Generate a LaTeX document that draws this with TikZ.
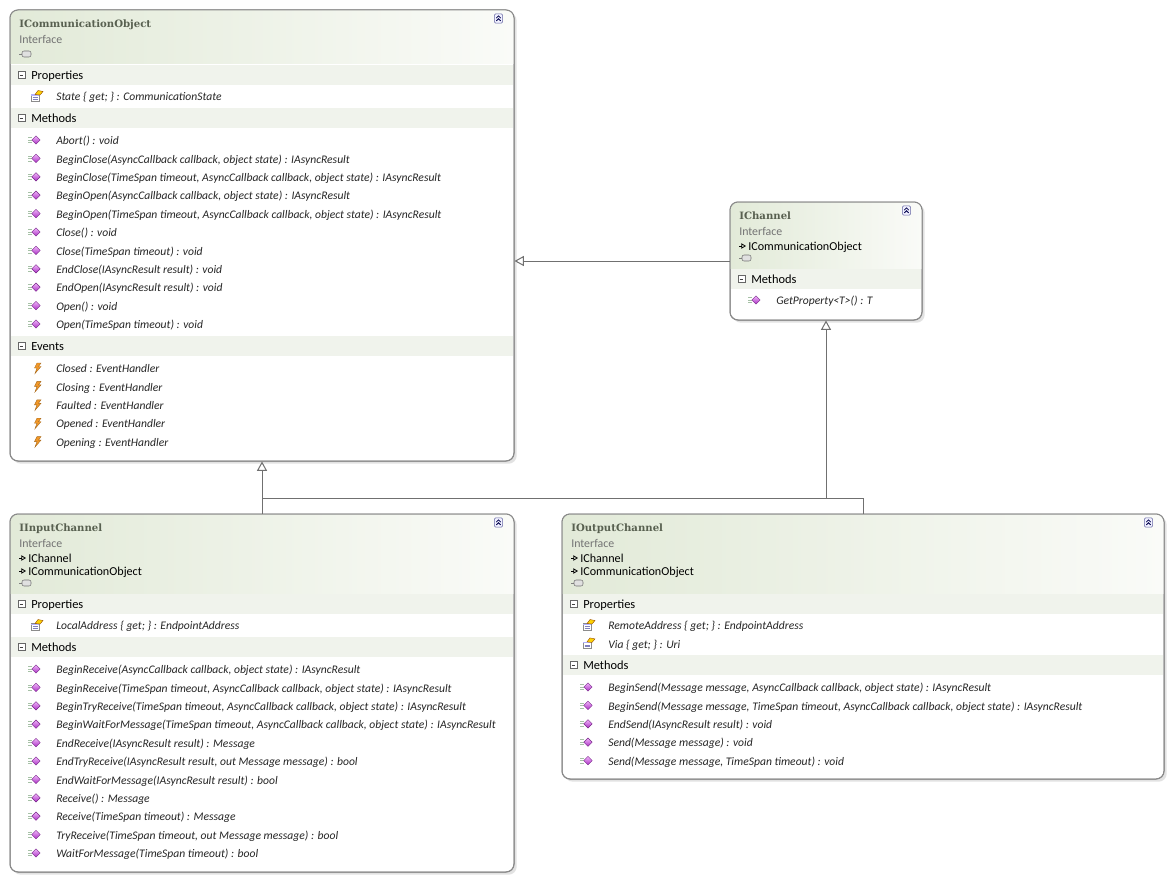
\documentclass[tikz,border=0pt]{standalone}
\usepackage{fontspec}
\setmainfont{Carlito}
\newfontfamily\titlefont{DejaVu Serif}
\usetikzlibrary{arrows.meta,fit,shadows}

\definecolor{umlborder}{RGB}{138,138,138}
\definecolor{hdrleft}{RGB}{226,234,216}
\definecolor{hdrright}{RGB}{250,251,248}
\definecolor{sectfill}{RGB}{240,243,236}
\definecolor{titlecol}{RGB}{88,96,80}
\definecolor{linkcol}{RGB}{112,112,112}
\definecolor{gem}{RGB}{170,50,195}
\definecolor{gemlight}{RGB}{240,180,250}
\definecolor{boltcol}{RGB}{242,152,40}

\tikzset{
  umlframe/.style={inner sep=0pt, rounded corners=6pt, draw=umlborder, fill=white,
    line width=0.75pt, drop shadow={shadow xshift=2pt, shadow yshift=-2pt, fill=black!22}},
  boxtitle/.style={anchor=west, inner sep=0pt, text height=8.6pt, text depth=1.6pt,
    font=\titlefont\bfseries\fontsize{7.6}{9}\selectfont, text=titlecol},
  boxkind/.style={anchor=west, inner sep=0pt, text height=8.6pt, text depth=1.6pt,
    font=\fontsize{8.9}{10}\selectfont, text=black!55},
  inhtext/.style={anchor=west, inner sep=0pt, text height=8.6pt, text depth=1.6pt,
    font=\fontsize{9.1}{10}\selectfont},
  sect/.style={anchor=west, inner sep=0pt, text height=9pt, text depth=1.8pt,
    font=\fontsize{9.3}{11}\selectfont},
  member/.style={anchor=west, inner sep=0pt, text height=8.6pt, text depth=1.6pt,
    font=\itshape\fontsize{8.7}{10}\selectfont, text=black!85},
  inharrow/.style={line width=0.6pt, -{Triangle[open, length=3.5pt, width=4pt]}},
  gen/.style={draw=linkcol, line width=0.75pt, -{Triangle[open, length=7pt, width=7.5pt, fill=white]}},
  link/.style={draw=linkcol, line width=0.75pt},
  methodicon/.pic={
    \draw[green!30!black!35, line width=0.5pt] foreach \k in {-2.5,0,2.5} {(-8,\k) -- (-4.5,\k)};
    \shade[top color=gemlight, bottom color=gem, draw=gem!70!black, line width=0.3pt]
      (0,-4.2) -- (4.2,0) -- (0,4.2) -- (-4.2,0) -- cycle;
  },
  propicon/.pic={
    \draw[fill=white, draw=black!45, line width=0.4pt] (-5,-1.5) rectangle (3,5);
    \fill[blue!30] (-5,-1.5) rectangle (3,0);
    \draw[blue!50!black!50, line width=0.4pt] (-3.5,1.5) -- (1.5,1.5) (-3.5,3.3) -- (1.5,3.3);
    \filldraw[fill=yellow!70!orange, draw=orange!60!black, line width=0.3pt]
      (-1,-1.5) -- (2,-5.5) -- (7,-4.5) -- (4,-1) -- cycle;
  },
  eventicon/.pic={
    \filldraw[fill=boltcol, draw=boltcol!70!black, line width=0.3pt]
      (1,-5) -- (5,-5) -- (2.5,-1.5) -- (5,-1.5) -- (-1,5.5) -- (1,0) -- (-1.5,0) -- cycle;
  },
  sectsign/.pic={
    \draw[black!60, fill=white, line width=0.4pt] (0,-3.5) rectangle (7,3.5);
    \draw[black!75, line width=0.5pt] (1.7,0) -- (5.3,0);
  },
  chevron/.pic={
    \draw[draw=blue!40!black!60, fill=blue!6, rounded corners=1pt, line width=0.4pt]
      (-4.2,-4.6) rectangle (4.2,4.6);
    \draw[blue!30!black, line width=0.6pt] (-2.2,-0.4) -- (0,-2.6) -- (2.2,-0.4)
      (-2.2,2.4) -- (0,0.2) -- (2.2,2.4);
  },
  lollipop/.pic={
    \draw[black!50, line width=0.5pt] (0,0) -- (3,0);
    \draw[fill=black!12, draw=black!55, rounded corners=1.5pt, line width=0.4pt] (3,-3) rectangle (12,3);
  },
}

\newcommand\umlbox[6]{% name, x1, y1, x2, y2, header bottom
  \coordinate (#1-nw) at (#2,#3);
  \coordinate (#1-se) at (#4,#5);
  \node[umlframe, fit=(#1-nw)(#1-se)] (#1) {};
  \begin{scope}
    \clip[rounded corners=6pt] (#1-nw) rectangle (#1-se);
    \shade[left color=hdrleft, right color=hdrright] (#1-nw) rectangle (#4,#6);
  \end{scope}
  \draw[umlborder, line width=0.75pt, rounded corners=6pt] (#1-nw) rectangle (#1-se);
  \pic at (#4-15.5,#3+8.5) {chevron};
}
\newcommand\umlsect[5]{% name, x1, x2, y, label
  \fill[sectfill] (#2+0.6,#4-10) rectangle (#3-0.6,#4+10);
  \pic at (#2+8,#4) {sectsign};
  \node[sect] (#1) at (#2+21,#4) {#5};
}
\newcommand\umlmembers[5]{% name, x1, y0, icon, list
  \foreach \txt [count=\i from 0] in {#5} {
    \pic at (#2+26,#3+18.4*\i) {#4};
    \node[member] (#1-\i) at (#2+46,#3+18.4*\i) {\txt};
  }
}
\newcommand\umlinh[4]{% name, x1, y, text
  \draw[inharrow] (#2+9,#3) -- (#2+16,#3);
  \node[inhtext] (#1) at (#2+18,#3) {#4};
}

\begin{document}
\begin{tikzpicture}[x=0.75pt, y=-0.75pt]
\fill[white] (0,0) rectangle (1171,881);
\useasboundingbox (0,0) rectangle (1171,881);

\umlbox{comobj}{10}{10}{514}{461}{64}
\node[boxtitle] (comobj-t) at (19,23) {ICommunicationObject};
\node[boxkind] (comobj-k) at (19,39) {Interface};
\pic at (19,54) {lollipop};
\umlsect{comobj-s1}{10}{514}{75}{Properties}
\umlmembers{comobj-p}{10}{96}{propicon}{{State \{ get; \} : CommunicationState}}
\umlsect{comobj-s2}{10}{514}{118}{Methods}
\umlmembers{comobj-m}{10}{140}{methodicon}{Abort() : void,
  {BeginClose(AsyncCallback callback, object state) : IAsyncResult},
  {BeginClose(TimeSpan timeout, AsyncCallback callback, object state) : IAsyncResult},
  {BeginOpen(AsyncCallback callback, object state) : IAsyncResult},
  {BeginOpen(TimeSpan timeout, AsyncCallback callback, object state) : IAsyncResult},
  Close() : void, Close(TimeSpan timeout) : void, EndClose(IAsyncResult result) : void,
  EndOpen(IAsyncResult result) : void, Open() : void, Open(TimeSpan timeout) : void}
\umlsect{comobj-s3}{10}{514}{346}{Events}
\umlmembers{comobj-e}{10}{368}{eventicon}{Closed : EventHandler, Closing : EventHandler,
  Faulted : EventHandler, Opened : EventHandler, Opening : EventHandler}

\umlbox{ichan}{730}{202}{922}{320}{268}
\node[boxtitle] (ichan-t) at (739,215) {IChannel};
\node[boxkind] (ichan-k) at (739,231) {Interface};
\umlinh{ichan-i1}{730}{246}{ICommunicationObject}
\pic at (739,258) {lollipop};
\umlsect{ichan-s1}{730}{922}{279}{Methods}
\umlmembers{ichan-m}{730}{300}{methodicon}{GetProperty<T>() : T}

\umlbox{inchan}{10}{514}{514}{872}{593}
\node[boxtitle] (inchan-t) at (19,527) {IInputChannel};
\node[boxkind] (inchan-k) at (19,543) {Interface};
\umlinh{inchan-i1}{10}{558}{IChannel}
\umlinh{inchan-i2}{10}{571}{ICommunicationObject}
\pic at (19,583) {lollipop};
\umlsect{inchan-s1}{10}{514}{604}{Properties}
\umlmembers{inchan-p}{10}{625}{propicon}{{LocalAddress \{ get; \} : EndpointAddress}}
\umlsect{inchan-s2}{10}{514}{647}{Methods}
\umlmembers{inchan-m}{10}{669}{methodicon}{
  {BeginReceive(AsyncCallback callback, object state) : IAsyncResult},
  {BeginReceive(TimeSpan timeout, AsyncCallback callback, object state) : IAsyncResult},
  {BeginTryReceive(TimeSpan timeout, AsyncCallback callback, object state) : IAsyncResult},
  {BeginWaitForMessage(TimeSpan timeout, AsyncCallback callback, object state) : IAsyncResult},
  EndReceive(IAsyncResult result) : Message,
  {EndTryReceive(IAsyncResult result, out Message message) : bool},
  EndWaitForMessage(IAsyncResult result) : bool, Receive() : Message,
  Receive(TimeSpan timeout) : Message,
  {TryReceive(TimeSpan timeout, out Message message) : bool},
  WaitForMessage(TimeSpan timeout) : bool}

\umlbox{outchan}{562}{514}{1164}{779}{593}
\node[boxtitle] (outchan-t) at (571,527) {IOutputChannel};
\node[boxkind] (outchan-k) at (571,543) {Interface};
\umlinh{outchan-i1}{562}{558}{IChannel}
\umlinh{outchan-i2}{562}{571}{ICommunicationObject}
\pic at (571,583) {lollipop};
\umlsect{outchan-s1}{562}{1164}{604}{Properties}
\umlmembers{outchan-p}{562}{625}{propicon}{{RemoteAddress \{ get; \} : EndpointAddress},
  Via \{ get; \} : Uri}
\umlsect{outchan-s2}{562}{1164}{665}{Methods}
\umlmembers{outchan-m}{562}{687}{methodicon}{
  {BeginSend(Message message, AsyncCallback callback, object state) : IAsyncResult},
  {BeginSend(Message message, TimeSpan timeout, AsyncCallback callback, object state) : IAsyncResult},
  EndSend(IAsyncResult result) : void, Send(Message message) : void,
  {Send(Message message, TimeSpan timeout) : void}}

\coordinate (busL) at (262,498);
\draw[gen] (ichan.west) -- (ichan.west -| comobj.east);
\draw[gen] (inchan.north) -- (comobj.south);
\draw[link] (outchan.north) |- (busL);
\draw[gen] (busL -| ichan.south) -- (ichan.south);
\end{tikzpicture}
\end{document}
